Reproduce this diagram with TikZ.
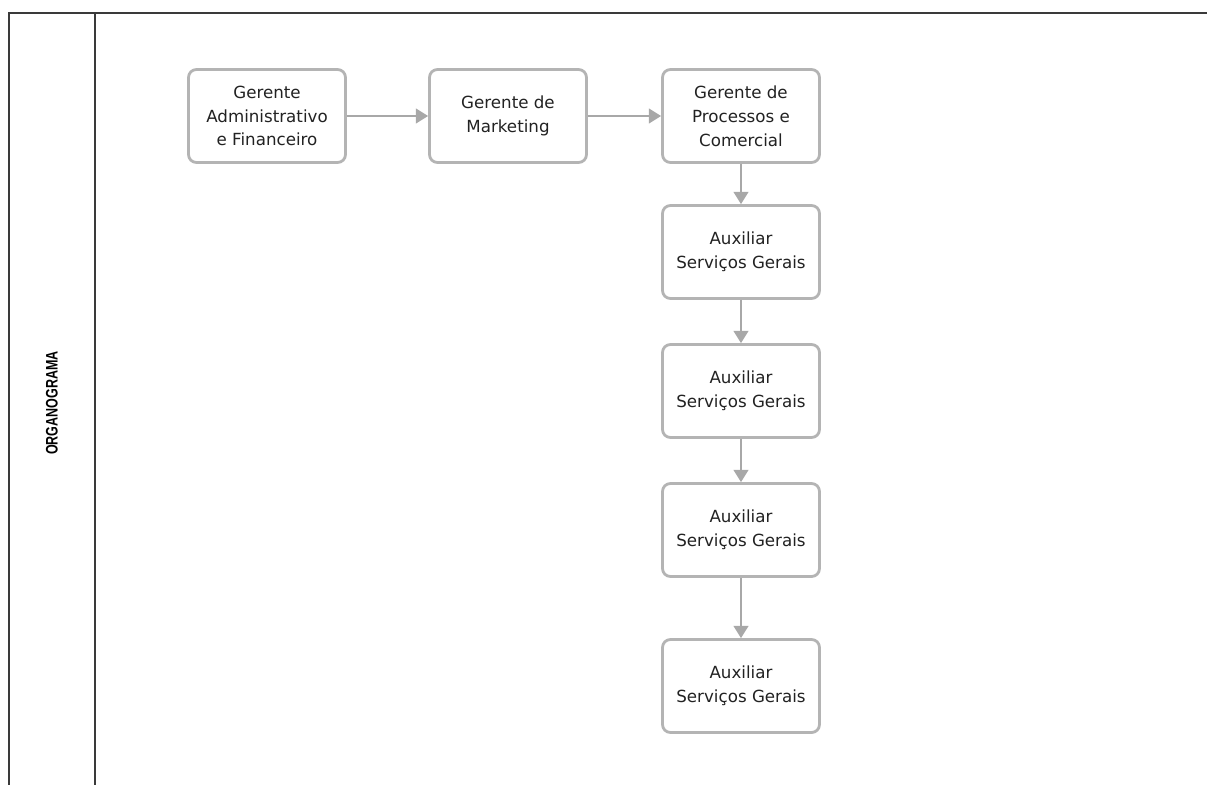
\documentclass[tikz,border=0pt]{standalone}
\usepackage{fontspec}
\setmainfont{DejaVu Sans}
\newfontfamily\lanefont[FakeStretch=0.75]{Liberation Sans}
\usetikzlibrary{arrows.meta}

\definecolor{boxgray}{HTML}{B4B4B4}
\definecolor{arrowgray}{HTML}{A8A8A8}
\definecolor{textgray}{HTML}{222222}
\definecolor{framegray}{HTML}{3A3A3A}

\begin{document}
\begin{tikzpicture}[
                    x=0.02cm, y=-0.02cm,
                    role/.style = {draw=boxgray, line width=1.6pt, rounded corners=4.5pt, fill=white,
                                   minimum width=3.14cm, minimum height=1.86cm, align=center,
                                   text=textgray, font=\fontsize{9.5}{13.6}\selectfont},
                    link/.style = {draw=arrowgray, line width=0.9pt, -{Triangle[width=8.5pt,length=7pt]}},
                    frame/.style = {draw=framegray, line width=1.1pt}
                ]
                    \useasboundingbox (0,0) rectangle (1207,785);

                    % lane frame
                    \draw[frame] (1207,13) -- (9,13) -- (9,785);
                    \draw[frame] (95,13) -- (95,785);
                    \node[rotate=90, font=\lanefont\bfseries\fontsize{9.5}{11}\selectfont] (lane) at (52,403) {ORGANOGRAMA};

                    \node[role] (ADM) at (267,116) {Gerente\\Administrativo\\e Financeiro};
                    \node[role] (MKT) at (508,116) {Gerente de\\Marketing};
                    \node[role] (PRC) at (741,116) {Gerente de\\Processos e\\Comercial};
                    \node[role] (AUX1) at (741,252) {Auxiliar\\Serviços Gerais};
                    \node[role] (AUX2) at (741,391) {Auxiliar\\Serviços Gerais};
                    \node[role] (AUX3) at (741,530) {Auxiliar\\Serviços Gerais};
                    \node[role] (AUX4) at (741,686) {Auxiliar\\Serviços Gerais};

                    \draw[link] (ADM) -- (MKT);
                    \draw[link] (MKT) -- (PRC);
                    \draw[link] (PRC) -- (AUX1);
                    \draw[link] (AUX1) -- (AUX2);
                    \draw[link] (AUX2) -- (AUX3);
                    \draw[link] (AUX3) -- (AUX4);
                \end{tikzpicture}
\end{document}
